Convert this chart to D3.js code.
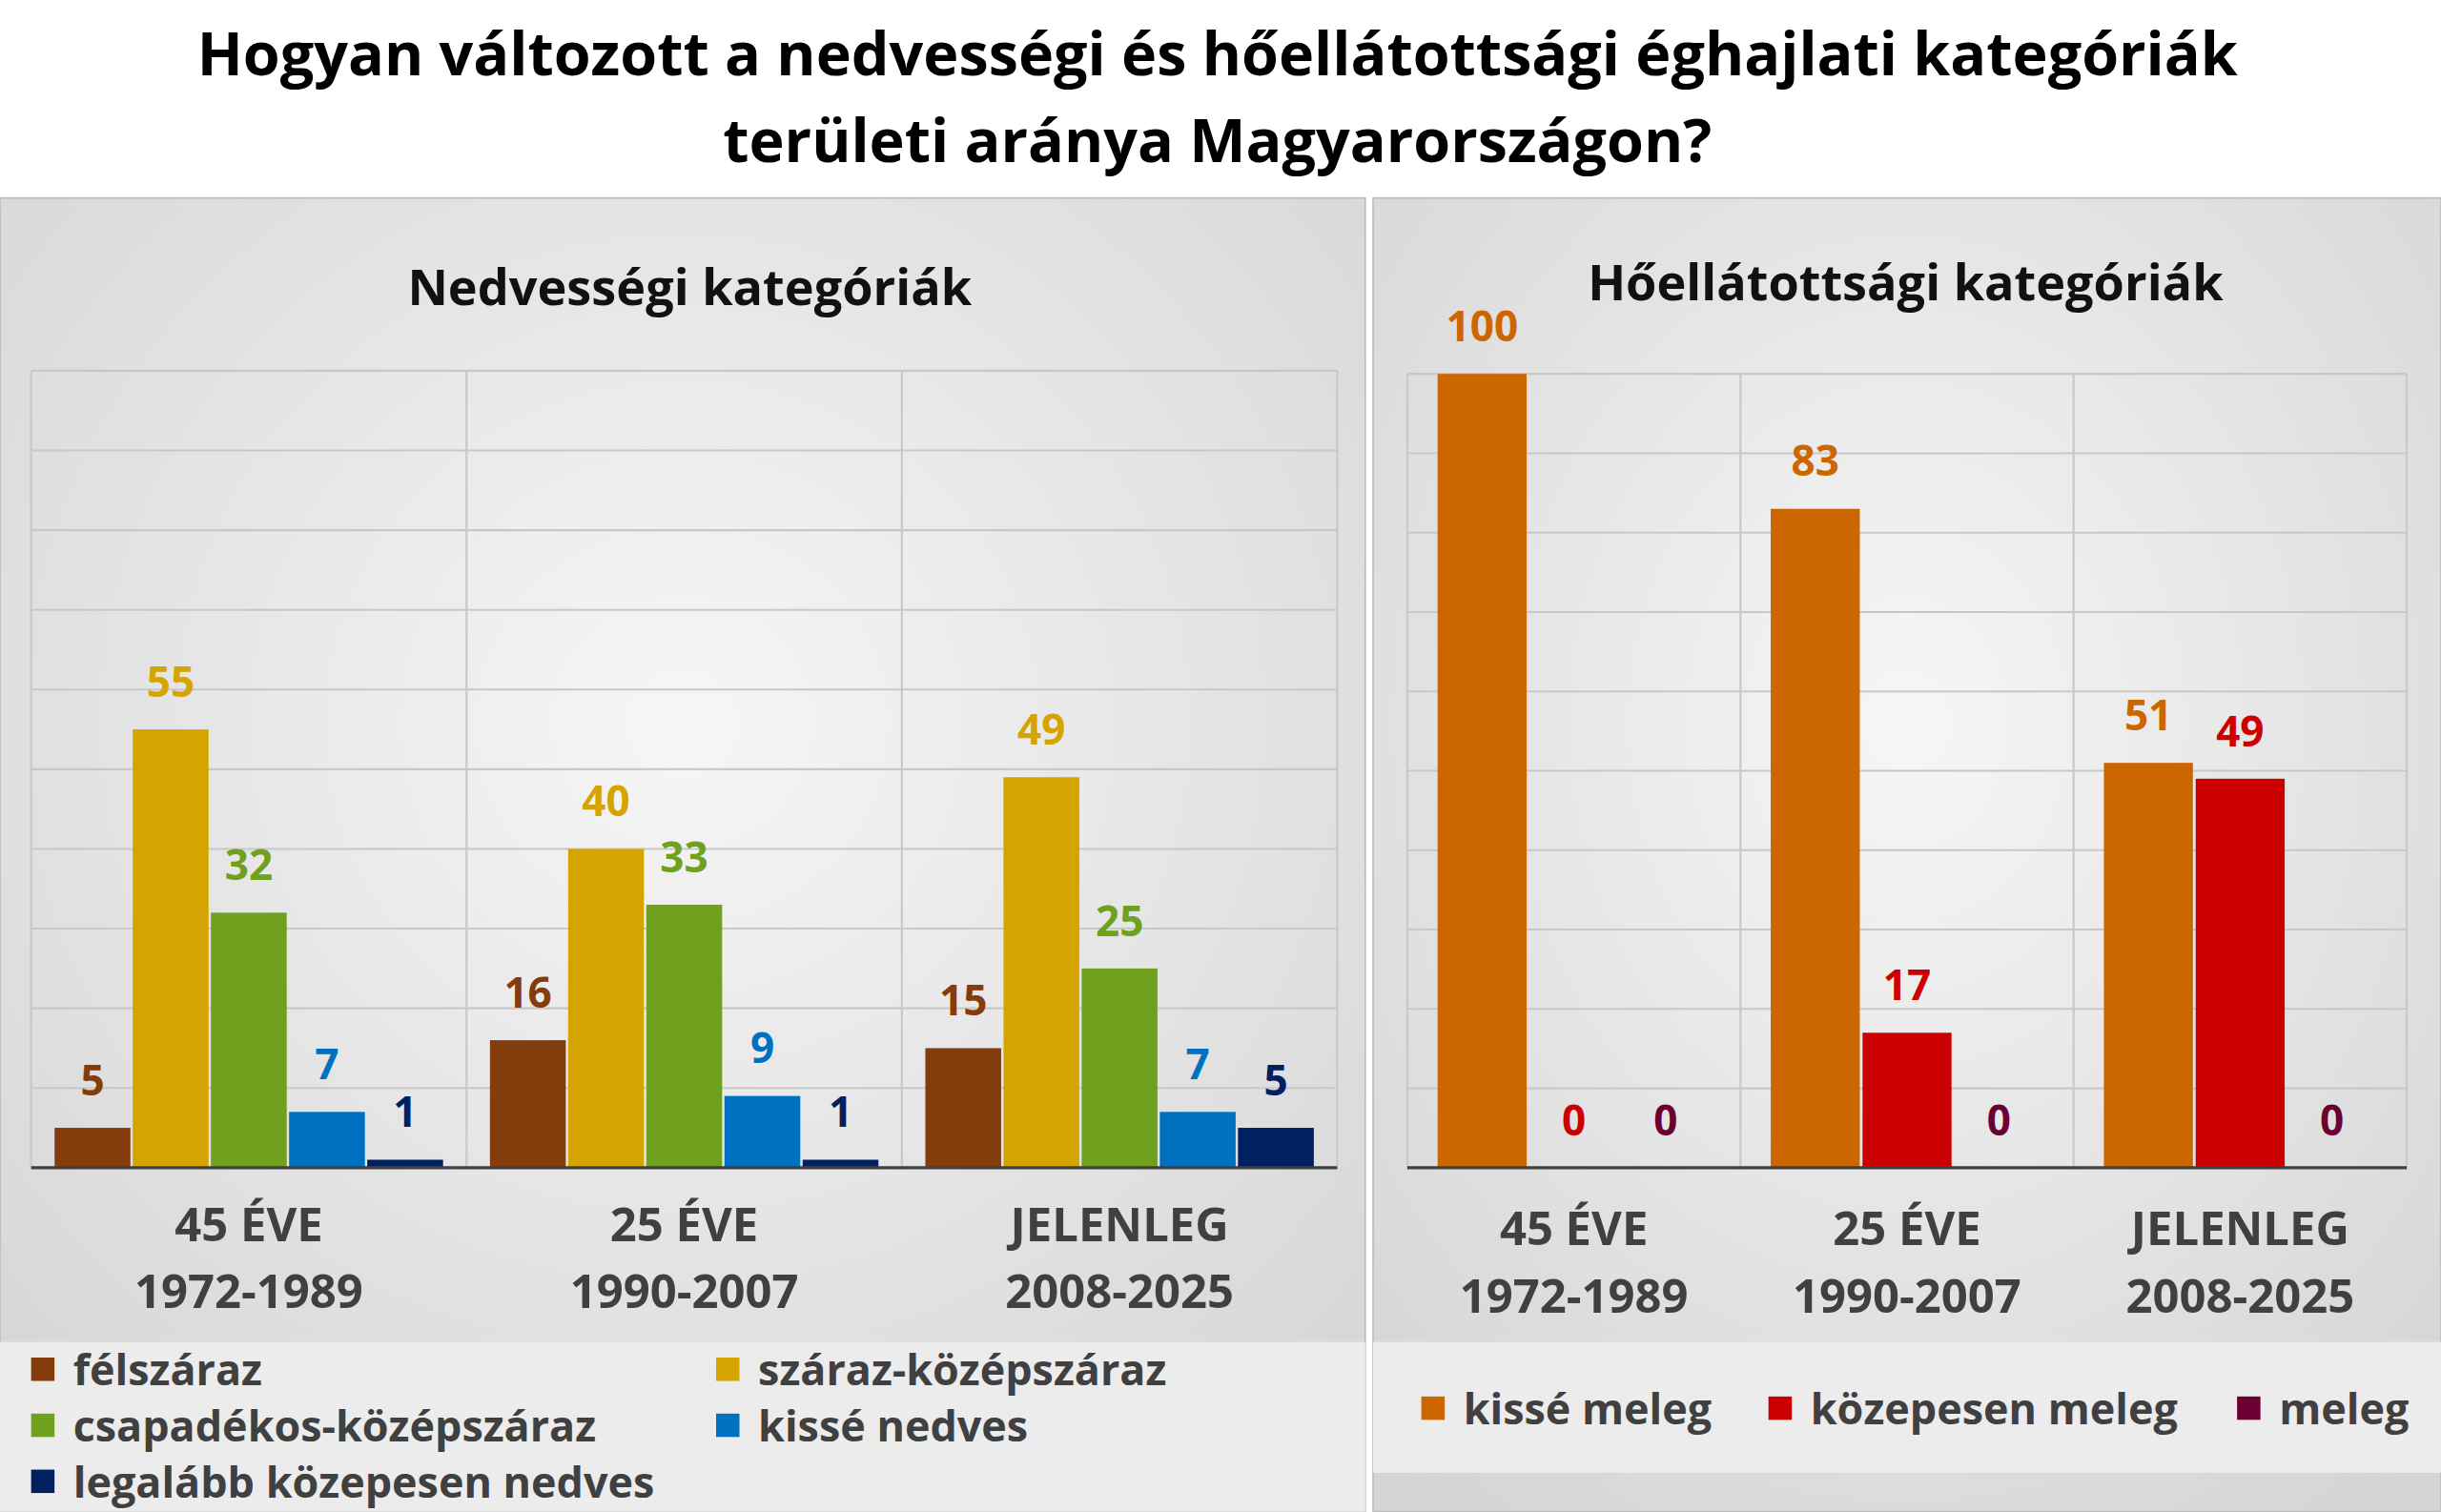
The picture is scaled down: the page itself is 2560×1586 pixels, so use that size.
<!DOCTYPE html>
<html lang="hu">
<head>
<meta charset="UTF-8">
<script src="https://d3js.org/d3.v7.min.js"></script>
<style>
  body { margin: 0; background: #fff; }
  text { font-family: "Open Sans", "DejaVu Sans", sans-serif; }
</style>
</head>
<body>
<script>
  // Adatok
  const periods = [["45 ÉVE", "1972-1989"], ["25 ÉVE", "1990-2007"], ["JELENLEG", "2008-2025"]];
  const moistSeries = ["félszáraz", "száraz-középszáraz", "csapadékos-középszáraz", "kissé nedves", "legalább közepesen nedves"];
  const moistColors = ["#843C0C", "#D6A400", "#6FA01E", "#0070C0", "#002060"];
  const moistValues = [
    [5, 16, 15],
    [55, 40, 49],
    [32, 33, 25],
    [7, 9, 7],
    [1, 1, 5]
  ];
  const heatSeries = ["kissé meleg", "közepesen meleg", "meleg"];
  const heatColors = ["#CC6600", "#CC0000", "#6B0032"];
  const heatValues = [
    [100, 83, 51],
    [0, 17, 49],
    [0, 0, 0]
  ];

  const svg = d3.select("body").append("svg")
    .attr("width", 2560).attr("height", 1586)
    .attr("viewBox", "0 0 1568 971");

  const defs = svg.append("defs");
  const grad = defs.append("radialGradient").attr("id", "bg").attr("cx", "50%").attr("cy", "40%").attr("r", "75%");
  grad.append("stop").attr("offset", "0%").attr("stop-color", "#f6f6f6");
  grad.append("stop").attr("offset", "100%").attr("stop-color", "#d4d4d4");

  // Cím
  svg.append("text").attr("x", 782).attr("y", 48).attr("text-anchor", "middle")
    .attr("font-size", 38.5).attr("font-weight", "bold").attr("fill", "#000")
    .text("Hogyan változott a nedvességi és hőellátottsági éghajlati kategóriák");
  svg.append("text").attr("x", 782).attr("y", 104).attr("text-anchor", "middle")
    .attr("font-size", 38.5).attr("font-weight", "bold").attr("fill", "#000")
    .text("területi aránya Magyarországon?");

  function panel(o) {
    const g = svg.append("g");
    g.append("rect").attr("x", o.x0).attr("y", 127).attr("width", o.x1 - o.x0).attr("height", 971 - 127)
      .attr("fill", "url(#bg)").attr("stroke", "#bbb");
    g.append("rect").attr("x", o.x0).attr("y", 862).attr("width", o.x1 - o.x0).attr("height", o.legH)
      .attr("fill", "#ececec");
    g.append("text").attr("x", o.titleX).attr("y", o.titleY).attr("text-anchor", "middle")
      .attr("font-size", 32).attr("font-weight", "bold").attr("fill", "#111").text(o.title);

    const x = d3.scaleBand().domain(d3.range(periods.length)).range([o.px0, o.px1]);
    const xs = d3.scaleBand().domain(d3.range(o.series.length))
      .range([0, x.bandwidth()]).paddingOuter(o.outer).paddingInner(0.03);
    const y = d3.scaleLinear().domain([0, 100]).range([750, o.py0]);

    // Rács
    g.append("g").selectAll("line").data(y.ticks(10)).join("line")
      .attr("x1", o.px0).attr("x2", o.px1).attr("y1", d => y(d)).attr("y2", d => y(d))
      .attr("stroke", "#c8c8c8").attr("stroke-width", 1.3);
    g.append("g").selectAll("line").data(d3.range(periods.length + 1)).join("line")
      .attr("x1", d => o.px0 + d * x.bandwidth()).attr("x2", d => o.px0 + d * x.bandwidth())
      .attr("y1", o.py0).attr("y2", 750).attr("stroke", "#c8c8c8").attr("stroke-width", 1.3);

    o.values.forEach((vals, si) => {
      const sg = g.append("g");
      sg.selectAll("rect").data(vals).join("rect")
        .attr("x", (d, i) => x(i) + xs(si)).attr("width", xs.bandwidth())
        .attr("y", d => y(d)).attr("height", d => 750 - y(d))
        .attr("fill", o.colors[si]);
      sg.selectAll("text").data(vals).join("text")
        .attr("x", (d, i) => x(i) + xs(si) + xs.bandwidth() / 2)
        .attr("y", d => y(d) - 21).attr("text-anchor", "middle")
        .attr("font-size", 27).attr("font-weight", "bold").attr("fill", o.colors[si])
        .text(d => d);
    });

    g.append("line").attr("x1", o.px0).attr("x2", o.px1).attr("y1", 750).attr("y2", 750)
      .attr("stroke", "#404040").attr("stroke-width", 2);

    periods.forEach((p, i) => {
      const t = g.append("text").attr("x", x(i) + x.bandwidth() / 2).attr("text-anchor", "middle")
        .attr("font-size", 30).attr("font-weight", "bold").attr("fill", "#404040");
      t.append("tspan").attr("x", x(i) + x.bandwidth() / 2).attr("y", o.labY).text(p[0]);
      t.append("tspan").attr("x", x(i) + x.bandwidth() / 2).attr("y", o.labY + 43).text(p[1]);
    });

    o.series.forEach((s, i) => {
      const [lx, ly] = o.legPos[i];
      g.append("rect").attr("x", lx).attr("y", ly - 8).attr("width", 15).attr("height", 15).attr("fill", o.colors[i]);
      g.append("text").attr("x", lx + 27).attr("y", ly + 10).attr("font-size", 27.5).attr("font-weight", "bold")
        .attr("fill", "#404040").text(s);
    });
  }

  panel({
    x0: 0, x1: 877, legH: 109, title: "Nedvességi kategóriák", titleX: 443, titleY: 196,
    px0: 20, px1: 859, py0: 238, outer: 0.3, labY: 797,
    series: moistSeries, colors: moistColors, values: moistValues,
    legPos: [[20, 880], [460, 880], [20, 916], [460, 916], [20, 952]]
  });
  panel({
    x0: 882, x1: 1568, legH: 84, title: "Hőellátottsági kategóriák", titleX: 1224, titleY: 193,
    px0: 904, px1: 1546, py0: 240, outer: 0.33, labY: 800,
    series: heatSeries, colors: heatColors, values: heatValues,
    legPos: [[913, 905], [1136, 905], [1437, 905]]
  });
</script>
</body>
</html>
